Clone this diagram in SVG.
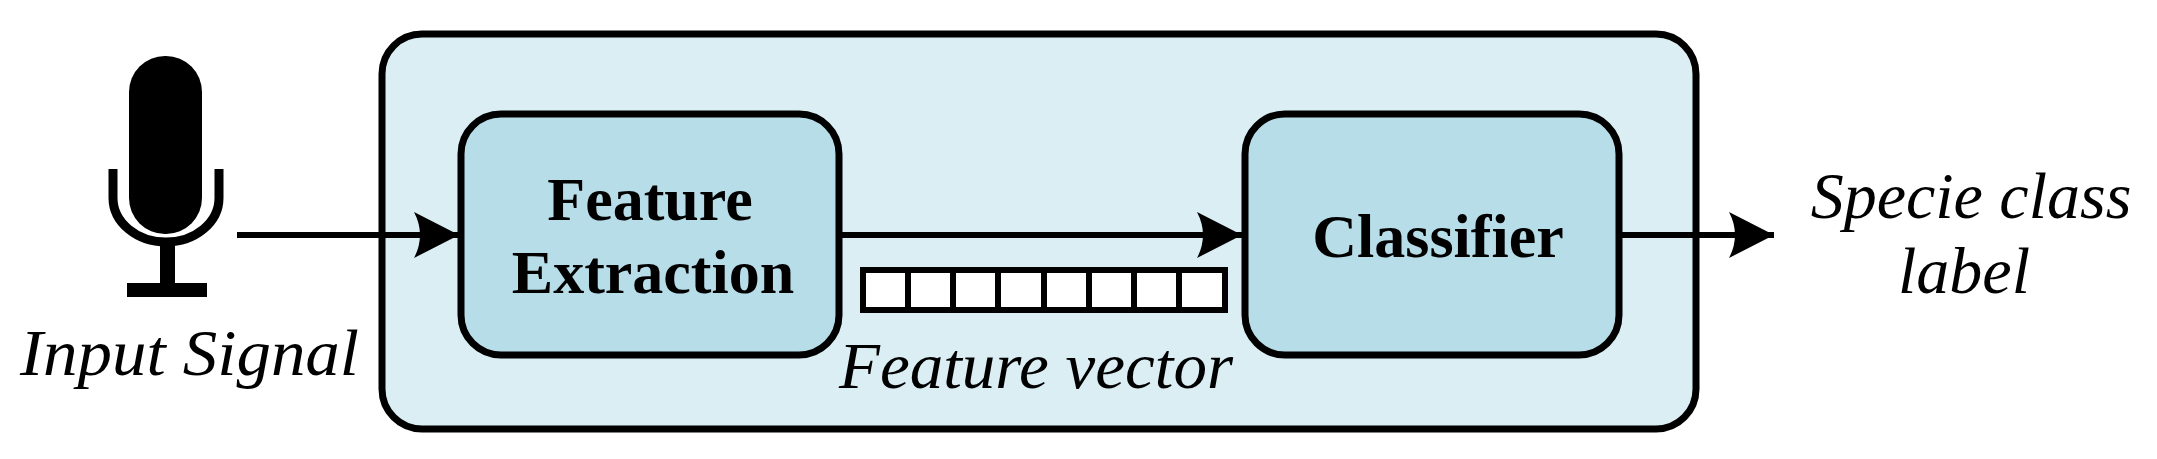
<svg xmlns="http://www.w3.org/2000/svg" width="2157" height="459" viewBox="0 0 2157 459">
<defs>
<style>
.box{stroke:#000;stroke-width:7}
.t{font-family:"Liberation Serif",serif;fill:#000}
.b{font-size:62px;text-anchor:middle;font-weight:bold}
.i{font-style:italic;font-size:66px}
.ln{stroke:#000;stroke-width:6;fill:none}
</style>
<marker id="ah" markerUnits="userSpaceOnUse" markerWidth="50" markerHeight="50" refX="45" refY="23" orient="auto" viewBox="0 0 50 46">
<path d="M0,0 L45,23 L0,46 Q12,23 0,0Z" fill="#000"/>
</marker>
</defs>
<rect width="2157" height="459" fill="#fff"/>
<g id="system"><rect class="box" x="382" y="34" width="1314" height="395" rx="40" fill="#dbeef4"/></g>
<g id="mic">
<rect x="129" y="56" width="73" height="178" rx="36" fill="#000"/>
<path d="M113,169 V198 a53,44 0 0 0 106,0 V169" fill="none" stroke="#000" stroke-width="9"/>
<rect x="160" y="240" width="15" height="45" fill="#000"/>
<rect x="127" y="283" width="80" height="14" fill="#000"/>
<text class="t i" x="20" y="375" textLength="339" lengthAdjust="spacingAndGlyphs">Input Signal</text>
</g>
<g id="fe">
<rect class="box" x="461" y="114" width="378" height="241" rx="40" fill="#b7dde8"/>
<text class="t b" x="650" y="220">Feature</text>
<text class="t b" x="653" y="293">Extraction</text>
</g>
<g id="clf">
<rect class="box" x="1245" y="114" width="374" height="241" rx="40" fill="#b7dde8"/>
<text class="t b" x="1438" y="257">Classifier</text>
</g>
<g id="fv">
<rect x="863" y="270" width="362" height="40" fill="#fff" stroke="#000" stroke-width="6"/>
<path d="M908,270V310M953,270V310M998,270V310M1044,270V310M1089,270V310M1134,270V310M1179,270V310" stroke="#000" stroke-width="6"/>
<text class="t i" x="839" y="388" textLength="394" lengthAdjust="spacingAndGlyphs">Feature vector</text>
</g>
<g id="out">
<text class="t i" x="1971" y="218" text-anchor="middle">Specie class</text>
<text class="t i" x="1964" y="293" text-anchor="middle">label</text>
</g>
<g id="connectors">
<line class="ln" x1="237" y1="235" x2="459" y2="235" marker-end="url(#ah)"/>
<line class="ln" x1="839" y1="235" x2="1242" y2="235" marker-end="url(#ah)"/>
<line class="ln" x1="1619" y1="235" x2="1774" y2="235" marker-end="url(#ah)"/>
</g>
</svg>
